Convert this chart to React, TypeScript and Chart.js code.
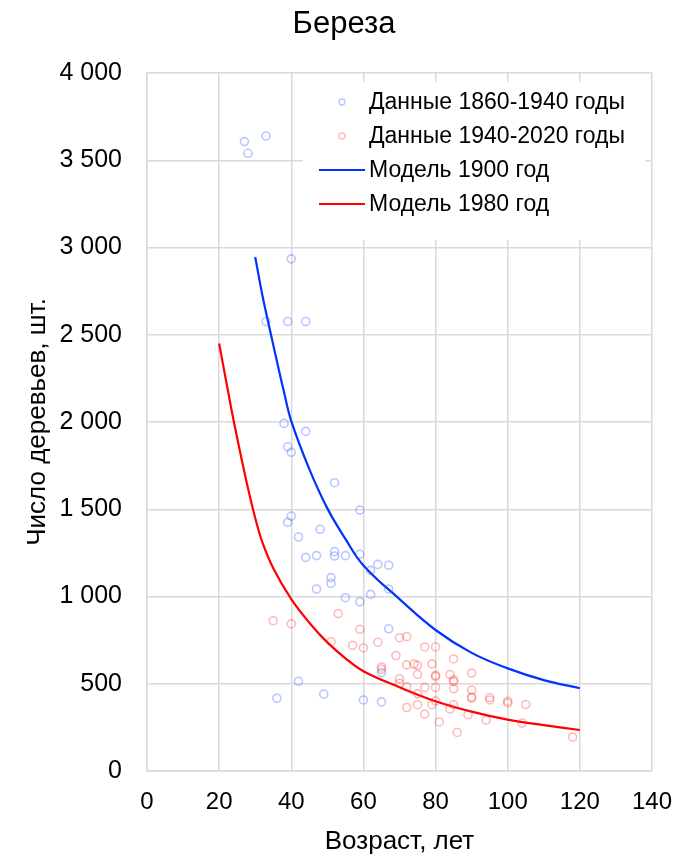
import React, { useEffect, useRef } from "react";
import { Chart, registerables } from "chart.js";

Chart.register(...registerables);

const chartTitle = "Береза";
const xTitle = "Возраст, лет";
const yTitle = "Число деревьев, шт.";

const seriesLabels = [
  "Данные 1860-1940 годы",
  "Данные 1940-2020 годы",
  "Модель 1900 год",
  "Модель 1980 год",
];

const xTickValues = [0, 20, 40, 60, 80, 100, 120, 140];
const yTickValues = [0, 500, 1000, 1500, 2000, 2500, 3000, 3500, 4000];

// Данные 1860-1940 годы
const oldAges = [
  27, 33, 28, 40, 33, 39, 44, 38, 44, 39, 40, 52, 59, 40, 39, 48, 42, 44, 47, 52,
  52, 55, 59, 64, 67, 62, 51, 51, 47, 67, 55, 59, 62, 67, 42, 36, 49, 60, 65, 65,
];
const oldCounts = [
  3607, 3639, 3540, 2935, 2576, 2576, 2576, 1992, 1946, 1858, 1826, 1652, 1495, 1461, 1425, 1385, 1341, 1224, 1234, 1257,
  1232, 1234, 1242, 1184, 1179, 1150, 1108, 1075, 1043, 1043, 993, 970, 1012, 815, 514, 417, 441, 407, 396, 564,
];

// Данные 1940-2020 годы
const newAges = [
  35, 40, 53, 59, 51, 57, 60, 64, 70, 72, 77, 80, 69, 85, 72, 74, 75, 79, 65, 65,
  75, 80, 80, 84, 85, 85, 90, 70, 70, 72, 77, 80, 85, 90, 75, 90, 90, 95, 95, 100,
  100, 105, 72, 75, 79, 80, 84, 85, 77, 89, 94, 81, 104, 86, 118,
];
const newCounts = [
  861, 843, 902, 812, 741, 720, 705, 738, 764, 770, 711, 711, 662, 642, 608, 613, 606, 614, 596, 583,
  554, 548, 542, 553, 522, 512, 561, 529, 503, 482, 479, 479, 471, 464, 442, 424, 418, 421, 407, 400,
  390, 381, 364, 380, 380, 402, 356, 380, 326, 322, 291, 281, 275, 221, 194,
];

// Модель 1900 год
const model1900Ages = [30, 32, 34, 36, 38, 40, 45, 50, 55, 60, 70, 80, 90, 100, 110, 120];
const model1900Counts = [2946, 2725, 2535, 2350, 2170, 2005, 1730, 1505, 1330, 1178, 985, 808, 677, 588, 521, 474];

// Модель 1980 год
const model1980Ages = [20, 22, 24, 26, 28, 30, 32, 35, 40, 45, 50, 55, 60, 70, 80, 90, 100, 110, 120];
const model1980Counts = [2450, 2228, 2010, 1810, 1620, 1450, 1310, 1162, 985, 850, 737, 646, 572, 480, 400, 340, 294, 263, 235];

const oldColor = "rgba(40, 80, 255, 0.32)";
const newColor = "rgba(255, 40, 40, 0.32)";
const line1900Color = "rgb(0, 51, 255)";
const line1980Color = "rgb(255, 0, 0)";
const gridColor = "#d9d9d9";
const fontFamily = "'Liberation Sans', Arial, sans-serif";

function fmtThousands(v: number): string {
  if (v >= 1000) {
    const th = Math.floor(v / 1000);
    const rest = String(v % 1000).padStart(3, "0");
    return `${th} ${rest}`;
  }
  return String(v);
}

function zip(xs: number[], ys: number[]) {
  return xs.map((x, i) => ({ x, y: ys[i] }));
}

const overlayPlugin = {
  id: "overlay",
  afterDraw(chart: any) {
    const { ctx, chartArea } = chart;
    ctx.save();
    // Title
    ctx.fillStyle = "#000";
    ctx.font = `31px ${fontFamily}`;
    ctx.textAlign = "center";
    ctx.textBaseline = "middle";
    ctx.fillText(chartTitle, 344, 24);

    // Legend box
    const boxLeft = chartArea.left + 156;
    const boxTop = chartArea.top + 9;
    const boxRight = chartArea.right - 7;
    const boxBottom = chartArea.top + 167;
    ctx.fillStyle = "#fff";
    ctx.fillRect(boxLeft, boxTop, boxRight - boxLeft, boxBottom - boxTop);

    const colors = [oldColor, newColor, line1900Color, line1980Color];
    ctx.font = `23px ${fontFamily}`;
    ctx.textAlign = "left";
    ctx.textBaseline = "middle";
    for (let i = 0; i < seriesLabels.length; i++) {
      const y = chartArea.top + 29 + i * 34;
      if (i < 2) {
        ctx.beginPath();
        ctx.arc(boxLeft + 39, y, 3, 0, Math.PI * 2);
        ctx.strokeStyle = colors[i];
        ctx.lineWidth = 1.3;
        ctx.stroke();
      } else {
        ctx.beginPath();
        ctx.moveTo(boxLeft + 16, y);
        ctx.lineTo(boxLeft + 62, y);
        ctx.strokeStyle = colors[i];
        ctx.lineWidth = 2;
        ctx.stroke();
      }
      ctx.fillStyle = "#000";
      ctx.fillText(seriesLabels[i], boxLeft + 66, y + 1);
    }
    ctx.restore();
  },
};

export default function App() {
  const canvasRef = useRef<HTMLCanvasElement | null>(null);

  useEffect(() => {
    const canvas = canvasRef.current;
    if (!canvas) return;
    const chart = new Chart(canvas, {
      type: "scatter",
      data: {
        datasets: [
          {
            label: seriesLabels[0],
            data: zip(oldAges, oldCounts),
            borderColor: oldColor,
            backgroundColor: "rgba(0,0,0,0)",
            pointRadius: 4,
            pointBorderWidth: 1.6,
            showLine: false,
          },
          {
            label: seriesLabels[1],
            data: zip(newAges, newCounts),
            borderColor: newColor,
            backgroundColor: "rgba(0,0,0,0)",
            pointRadius: 4,
            pointBorderWidth: 1.6,
            showLine: false,
          },
          {
            label: seriesLabels[2],
            data: zip(model1900Ages, model1900Counts),
            borderColor: line1900Color,
            backgroundColor: line1900Color,
            borderWidth: 2.2,
            pointRadius: 0,
            showLine: true,
            tension: 0.4,
          },
          {
            label: seriesLabels[3],
            data: zip(model1980Ages, model1980Counts),
            borderColor: line1980Color,
            backgroundColor: line1980Color,
            borderWidth: 2.2,
            pointRadius: 0,
            showLine: true,
            tension: 0.4,
          },
        ],
      },
      options: {
        responsive: false,
        animation: false,
        devicePixelRatio: 1,
        layout: { padding: { top: 73, right: 48, left: 0, bottom: 0 } },
        plugins: {
          legend: { display: false },
          title: { display: false },
          tooltip: { enabled: false },
        },
        scales: {
          x: {
            type: "linear",
            min: 0,
            max: 140,
            afterFit: (s: any) => {
              s.height = 88;
            },
            afterBuildTicks: (s: any) => {
              s.ticks = xTickValues.map((v) => ({ value: v }));
            },
            grid: { color: gridColor, lineWidth: 1.5, drawTicks: false },
            border: { color: gridColor, width: 1.5 },
            ticks: {
              padding: 17,
              color: "#000",
              font: { family: fontFamily, size: 24 },
              callback: (v: any) => String(v),
            },
            title: {
              display: true,
              text: xTitle,
              color: "#000",
              font: { family: fontFamily, size: 26 },
              padding: { top: 0, bottom: 2 },
            },
          },
          y: {
            type: "linear",
            min: 0,
            max: 4000,
            afterFit: (s: any) => {
              s.width = 147;
            },
            afterBuildTicks: (s: any) => {
              s.ticks = yTickValues.map((v) => ({ value: v }));
            },
            grid: { color: gridColor, lineWidth: 1.5, drawTicks: false },
            border: { color: gridColor, width: 1.5 },
            ticks: {
              padding: 25,
              color: "#000",
              font: { family: fontFamily, size: 25 },
              callback: (v: any) => fmtThousands(Number(v)),
            },
            title: {
              display: true,
              text: yTitle,
              color: "#000",
              font: { family: fontFamily, size: 26 },
              padding: { top: 22, bottom: 0 },
            },
          },
        },
      },
      plugins: [overlayPlugin],
    } as any);
    return () => chart.destroy();
  }, []);

  return (
    <div style={{ position: "fixed", left: 0, top: 0, width: 700, height: 859, background: "#fff" }}>
      <canvas ref={canvasRef} width={700} height={859} style={{ width: 700, height: 859 }} />
    </div>
  );
}
